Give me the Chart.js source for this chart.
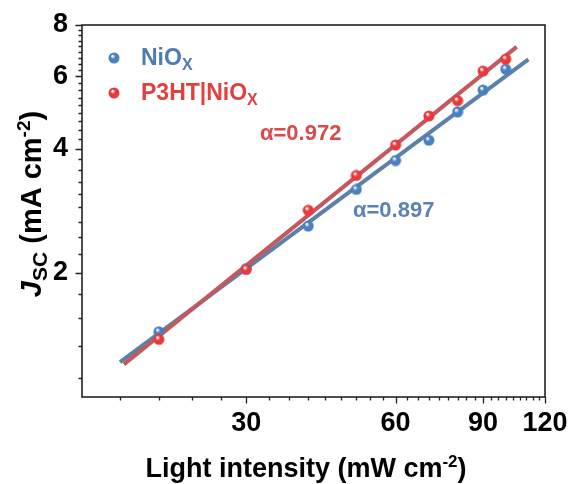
<!DOCTYPE html>
<html>
<head>
<meta charset="utf-8">
<script src="https://cdn.jsdelivr.net/npm/chart.js@4.4.1/dist/chart.umd.min.js"></script>
<style>
  html, body { margin: 0; padding: 0; background: #fff; }
  #wrap { width: 572px; height: 484px; }
</style>
</head>
<body>
<div id="wrap"><canvas id="chart"></canvas></div>
<script>
// light intensity (mW cm-2) and Jsc (mA cm-2)
const intensity = [20, 30, 40, 50, 60, 70, 80, 90, 100];
const jscNiO = [1.44, 2.05, 2.60, 3.19, 3.75, 4.20, 4.92, 5.56, 6.25];
const jscP3HT = [1.38, 2.04, 2.84, 3.45, 4.09, 4.81, 5.24, 6.18, 6.61];

// ends of the two fitted lines
const fitNiOX = [16.7, 111.1];
const fitNiOY = [1.215, 6.60];
const fitP3HTX = [17.0, 105.2];
const fitP3HTY = [1.20, 7.08];

const xTicks = [30, 60, 90, 120];
const yTicks = [2, 4, 6, 8];
const slopes = ['α=0.972', 'α=0.897'];

const BLUE = '#4a7fc0';
const RED = '#e8393c';
const BLUE_LINE = '#5b81aa';
const RED_LINE = '#c3595d';
const FONT = 'Liberation Sans, Arial, sans-serif';

// small shaded ball used as point marker
function ball(color) {
  const c = document.createElement('canvas');
  c.width = 12; c.height = 12;
  const g = c.getContext('2d');
  const grad = g.createRadialGradient(4.5, 4, 0.5, 6, 6, 6);
  grad.addColorStop(0, '#ffffff');
  grad.addColorStop(0.35, color);
  grad.addColorStop(1, color);
  g.fillStyle = grad;
  g.beginPath();
  g.arc(6, 6, 5.5, 0, Math.PI * 2);
  g.fill();
  return c;
}
const blueBall = ball(BLUE);
const redBall = ball(RED);

const pts = (xs, ys) => xs.map((x, i) => ({ x: x, y: ys[i] }));

// text with sub/superscript pieces: [text, fontSize, dy, italic]
function drawRich(ctx, parts, x, y, color) {
  let cx = x;
  parts.forEach(p => {
    ctx.font = (p[3] ? 'italic ' : '') + 'bold ' + p[1] + 'px ' + FONT;
    ctx.fillStyle = color;
    ctx.fillText(p[0], cx, y + p[2]);
    cx += ctx.measureText(p[0]).width;
  });
  return cx - x;
}
function richWidth(ctx, parts) {
  let w = 0;
  parts.forEach(p => {
    ctx.font = (p[3] ? 'italic ' : '') + 'bold ' + p[1] + 'px ' + FONT;
    w += ctx.measureText(p[0]).width;
  });
  return w;
}

const decor = {
  id: 'decor',
  afterDraw(chart) {
    const { ctx, chartArea: a, scales: { x, y } } = chart;
    ctx.save();
    ctx.textBaseline = 'alphabetic';
    ctx.textAlign = 'left';

    // frame
    ctx.strokeStyle = '#222';
    ctx.lineWidth = 1.6;
    ctx.strokeRect(a.left, a.top, a.right - a.left, a.bottom - a.top);

    // tick marks, 8 minor between majors
    ctx.lineWidth = 1.3;
    ctx.beginPath();
    const xStep = (xTicks[1] - xTicks[0]) / 9;
    for (let i = 0; ; i++) {
      const v = xTicks[0] - 5 * xStep + i * xStep;
      if (v > x.max + 1e-6) break;
      if (v < x.min) continue;
      const px = Math.round(x.getPixelForValue(v)) + 0.5;
      const major = xTicks.some(t => Math.abs(t - v) < 1e-6);
      ctx.moveTo(px, a.bottom);
      ctx.lineTo(px, a.bottom + (major ? 6.5 : 3.5));
    }
    const yStep = (yTicks[1] - yTicks[0]) / 9;
    for (let i = 0; ; i++) {
      const v = yTicks[0] - 9 * yStep + i * yStep;
      if (v > y.max + 1e-6) break;
      if (v < y.min + 1e-6) continue;
      const py = Math.round(y.getPixelForValue(v)) + 0.5;
      const major = yTicks.some(t => Math.abs(t - v) < 1e-6);
      ctx.moveTo(a.left, py);
      ctx.lineTo(a.left - (major ? 6.5 : 3.5), py);
    }
    ctx.stroke();

    // legend
    ctx.drawImage(blueBall, 108, 52);
    ctx.drawImage(redBall, 108, 87);
    drawRich(ctx, [['NiO', 23, 0], ['X', 16, 5]], 141, 65, '#4d7cb4');
    drawRich(ctx, [['P3HT|NiO', 23, 0], ['X', 16, 5]], 141, 99.5, '#e2403f');

    // slope labels
    ctx.font = 'bold 22px ' + FONT;
    ctx.fillStyle = '#d94a4b';
    ctx.fillText(slopes[0], 260, 140);
    ctx.fillStyle = '#5a83b3';
    ctx.fillText(slopes[1], 353, 216.5);

    // x title
    const xt = [['Light intensity (mW cm', 27, 0], ['-2', 17, -10], [')', 27, 0]];
    const xw = richWidth(ctx, xt);
    drawRich(ctx, xt, 306 - xw / 2, 476.5, '#000');

    // y title
    const yt = [['J', 29, 0, true], ['SC', 21, 6], [' (mA cm', 29, 0], ['-2', 19, -11], [')', 29, 0]];
    const yw = richWidth(ctx, yt);
    ctx.translate(41, 204);
    ctx.rotate(-Math.PI / 2);
    drawRich(ctx, yt, -yw / 2, 0, '#000');
    ctx.restore();
  }
};

new Chart(document.getElementById('chart'), {
  type: 'scatter',
  data: {
    datasets: [
      {
        label: 'NiOx fit',
        type: 'line',
        data: pts(fitNiOX, fitNiOY),
        borderColor: BLUE_LINE,
        borderWidth: 4,
        pointRadius: 0,
        order: 4
      },
      {
        label: 'P3HT|NiOx fit',
        type: 'line',
        data: pts(fitP3HTX, fitP3HTY),
        borderColor: RED_LINE,
        borderWidth: 4,
        pointRadius: 0,
        order: 3
      },
      {
        label: 'NiOx',
        data: pts(intensity, jscNiO),
        pointStyle: blueBall,
        order: 2
      },
      {
        label: 'P3HT|NiOx',
        data: pts(intensity, jscP3HT),
        pointStyle: redBall,
        order: 1
      }
    ]
  },
  options: {
    responsive: true,
    maintainAspectRatio: false,
    animation: false,
    layout: { padding: { left: 0, right: 27, top: 25, bottom: 0 } },
    plugins: {
      legend: { display: false },
      tooltip: { enabled: false }
    },
    scales: {
      x: {
        type: 'logarithmic',
        min: 14,
        max: 120,
        afterBuildTicks: s => { s.ticks = xTicks.map(v => ({ value: v })); },
        afterFit: s => { s.height = 87; s.paddingLeft = 0; s.paddingRight = 0; },
        grid: { display: false, drawTicks: false },
        border: { display: false },
        ticks: {
          color: '#000',
          font: { family: FONT, size: 27, weight: 'bold' },
          padding: 10,
          maxRotation: 0,
          autoSkip: false,
          callback: v => String(v)
        }
      },
      y: {
        type: 'logarithmic',
        min: 1,
        max: 8,
        afterBuildTicks: s => { s.ticks = yTicks.map(v => ({ value: v })); },
        afterFit: s => { s.width = 82; s.paddingTop = 0; s.paddingBottom = 0; },
        grid: { display: false, drawTicks: false },
        border: { display: false },
        ticks: {
          color: '#000',
          font: { family: FONT, size: 27, weight: 'bold' },
          padding: 14,
          autoSkip: false,
          callback: v => String(v)
        }
      }
    }
  },
  plugins: [decor]
});
</script>
</body>
</html>
